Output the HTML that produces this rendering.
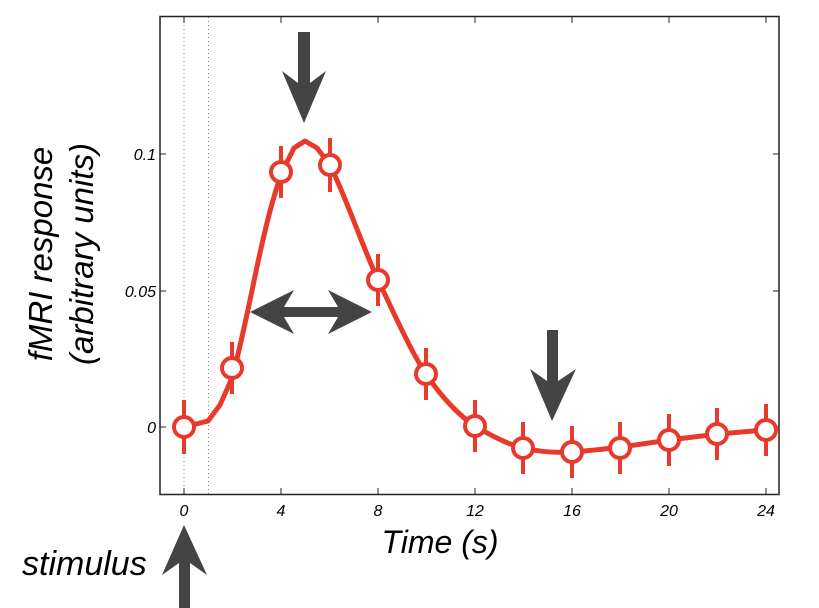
<!DOCTYPE html>
<html><head><meta charset="utf-8"><style>
html,body{margin:0;padding:0;background:#fff;}
svg{display:block;}
text{font-family:"Liberation Sans",sans-serif;font-style:italic;fill:#000;}
</style></head><body>
<svg width="819" height="608" viewBox="0 0 819 608" xmlns="http://www.w3.org/2000/svg">
<line x1="184" y1="17" x2="184" y2="494" stroke="#888" stroke-width="1" stroke-dasharray="1,3"/>
<line x1="208.5" y1="17" x2="208.5" y2="494" stroke="#888" stroke-width="1" stroke-dasharray="1,3"/>
<rect x="160" y="16.5" width="619" height="478" fill="none" stroke="#222" stroke-width="1.5"/>
<g stroke="#222" stroke-width="1">
<line x1="184" y1="494" x2="184" y2="488"/><line x1="184" y1="17" x2="184" y2="23"/>
<line x1="281" y1="494" x2="281" y2="488"/><line x1="281" y1="17" x2="281" y2="23"/>
<line x1="378" y1="494" x2="378" y2="488"/><line x1="378" y1="17" x2="378" y2="23"/>
<line x1="475" y1="494" x2="475" y2="488"/><line x1="475" y1="17" x2="475" y2="23"/>
<line x1="572" y1="494" x2="572" y2="488"/><line x1="572" y1="17" x2="572" y2="23"/>
<line x1="669" y1="494" x2="669" y2="488"/><line x1="669" y1="17" x2="669" y2="23"/>
<line x1="766" y1="494" x2="766" y2="488"/><line x1="766" y1="17" x2="766" y2="23"/>
<line x1="160" y1="427" x2="166" y2="427"/><line x1="779" y1="427" x2="773" y2="427"/>
<line x1="160" y1="291" x2="166" y2="291"/><line x1="779" y1="291" x2="773" y2="291"/>
<line x1="160" y1="154" x2="166" y2="154"/><line x1="779" y1="154" x2="773" y2="154"/>
</g>
<g font-size="16" text-anchor="middle">
<text x="184" y="516">0</text><text x="281" y="516">4</text><text x="378" y="516">8</text>
<text x="475" y="516">12</text><text x="572" y="516">16</text><text x="669" y="516">20</text><text x="766" y="516">24</text>
</g>
<g font-size="16" text-anchor="end">
<text x="156" y="433">0</text><text x="156" y="297">0.05</text><text x="156" y="160">0.1</text>
</g>
<text x="440" y="553" font-size="32" text-anchor="middle">Time (s)</text>
<text x="22" y="575" font-size="34">stimulus</text>
<g transform="translate(52,254) rotate(-90)" font-size="33" text-anchor="middle">
<text x="0" y="0">fMRI response</text>
<text x="0" y="41">(arbitrary units)</text>
</g>
<g fill="#444">
<polygon points="298,32 310,32 310,83 326,71 304,123 282,71 298,83"/>
<polygon points="547,330 558,330 558,381 576,369 552,421 530,369 547,381"/>
<polygon points="179,608 190,608 190,563 207,575 184,525 162,575 179,563"/>
<polygon points="250,312 294,290 284,307 338,307 328,290 372,312 328,334 338,317 284,317 294,334"/>
</g>
<path d="M184,427 L208,421 L220,405 L232,378 C240,350 250,300 258,262 C265,230 272,200 282,172 L294,148 L305,141 L317,148 L330,165 C345,195 362,245 378,280 C395,315 410,350 426,374 C440,395 458,415 475,426 C495,438 510,445 523,448 C540,452 555,453 572,452 C600,450 630,446 669,440 C700,436 735,432 766,430" fill="none" stroke="#e8392a" stroke-width="5" stroke-linejoin="round"/>
<g stroke="#e8392a" stroke-width="4">
<line x1="184" y1="400" x2="184" y2="454"/>
<line x1="232" y1="342" x2="232" y2="394"/>
<line x1="281" y1="146" x2="281" y2="198"/>
<line x1="330" y1="138" x2="330" y2="192"/>
<line x1="378" y1="254" x2="378" y2="306"/>
<line x1="426" y1="348" x2="426" y2="400"/>
<line x1="475" y1="400" x2="475" y2="452"/>
<line x1="523" y1="422" x2="523" y2="474"/>
<line x1="572" y1="426" x2="572" y2="478"/>
<line x1="620" y1="422" x2="620" y2="474"/>
<line x1="669" y1="414" x2="669" y2="466"/>
<line x1="717" y1="408" x2="717" y2="460"/>
<line x1="766" y1="404" x2="766" y2="456"/>
</g>
<g fill="#fff" stroke="#e8392a" stroke-width="4">
<circle cx="184" cy="427" r="10"/>
<circle cx="232" cy="368" r="10"/>
<circle cx="281" cy="172" r="10"/>
<circle cx="330" cy="165" r="10"/>
<circle cx="378" cy="280" r="10"/>
<circle cx="426" cy="374" r="10"/>
<circle cx="475" cy="426" r="10"/>
<circle cx="523" cy="448" r="10"/>
<circle cx="572" cy="452" r="10"/>
<circle cx="620" cy="448" r="10"/>
<circle cx="669" cy="440" r="10"/>
<circle cx="717" cy="434" r="10"/>
<circle cx="766" cy="430" r="10"/>
</g>
</svg>
</body></html>
